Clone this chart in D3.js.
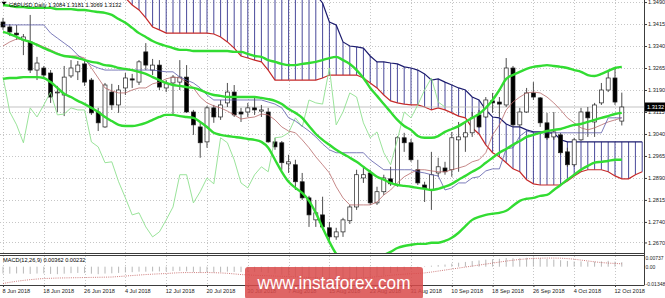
<!DOCTYPE html>
<html><head><meta charset="utf-8">
<script src="https://cdn.jsdelivr.net/npm/d3@7"></script>
<style>
html,body{margin:0;padding:0;background:#fff;overflow:hidden;}
svg{display:block;font-family:"Liberation Sans",Arial,sans-serif;}
</style>
</head><body>
<svg id="chart" width="665" height="298"></svg>
<script>
// ---------------- DATA ----------------
const title = "GBPUSD,Daily 1.3084 1.3181 1.3069 1.3132";
const macdTitle = "MACD(12,26,9) 0.00362 0.00232";
const dates = [
"2018-06-08","2018-06-11","2018-06-12","2018-06-13","2018-06-14","2018-06-15","2018-06-18","2018-06-19","2018-06-20","2018-06-21",
"2018-06-22","2018-06-25","2018-06-26","2018-06-27","2018-06-28","2018-06-29","2018-07-02","2018-07-03","2018-07-04","2018-07-05",
"2018-07-06","2018-07-09","2018-07-10","2018-07-11","2018-07-12","2018-07-13","2018-07-16","2018-07-17","2018-07-18","2018-07-19",
"2018-07-20","2018-07-23","2018-07-24","2018-07-25","2018-07-26","2018-07-27","2018-07-30","2018-07-31","2018-08-01","2018-08-02",
"2018-08-03","2018-08-06","2018-08-07","2018-08-08","2018-08-09","2018-08-10","2018-08-13","2018-08-14","2018-08-15","2018-08-16",
"2018-08-17","2018-08-20","2018-08-21","2018-08-22","2018-08-23","2018-08-24","2018-08-27","2018-08-28","2018-08-29","2018-08-30",
"2018-08-31","2018-09-03","2018-09-04","2018-09-05","2018-09-06","2018-09-07","2018-09-10","2018-09-11","2018-09-12","2018-09-13",
"2018-09-14","2018-09-17","2018-09-18","2018-09-19","2018-09-20","2018-09-21","2018-09-24","2018-09-25","2018-09-26","2018-09-27",
"2018-09-28","2018-10-01","2018-10-02","2018-10-03","2018-10-04","2018-10-05","2018-10-08","2018-10-09","2018-10-10","2018-10-11",
"2018-10-12","2018-10-15"];
const open = [
1.3422,1.3405,1.3384,1.3361,1.3354,1.3258,1.3265,1.3248,1.3180,1.3173,
1.3238,1.3252,1.3279,1.3224,1.3115,1.3064,1.3183,1.3139,1.3197,1.3228,
1.3217,1.3320,1.3258,1.3275,1.3197,1.3214,1.3217,1.3234,1.3115,1.3064,
1.3013,1.3129,1.3098,1.3146,1.3183,1.3115,1.3115,1.3129,1.3118,1.3115,
1.3013,1.3010,1.2938,1.2935,1.2877,1.2822,1.2747,1.2764,1.2720,1.2689,
1.2706,1.2744,1.2791,1.2890,1.2907,1.2805,1.2843,1.2887,1.2866,1.3027,
1.3010,1.2918,1.2866,1.2849,1.2907,1.2924,1.2918,1.3020,1.3030,1.3044,
1.3105,1.3098,1.3153,1.3149,1.3139,1.3265,1.3071,1.3115,1.3180,1.3163,
1.3078,1.3030,1.3037,1.2979,1.2935,1.3020,1.3115,1.3081,1.3146,1.3190,
1.3231,1.3084];
const high = [
1.3436,1.3415,1.3412,1.3381,1.3446,1.3303,1.3272,1.3258,1.3204,1.3272,
1.3292,1.3289,1.3292,1.3231,1.3129,1.3214,1.3211,1.3207,1.3248,1.3245,
1.3292,1.3350,1.3296,1.3292,1.3224,1.3241,1.3292,1.3275,1.3122,1.3078,
1.3136,1.3139,1.3156,1.3214,1.3207,1.3129,1.3146,1.3163,1.3139,1.3129,
1.3027,1.3016,1.2969,1.2952,1.2907,1.2829,1.2815,1.2826,1.2740,1.2720,
1.2754,1.2798,1.2918,1.2924,1.2918,1.2860,1.2901,1.2928,1.3033,1.3044,
1.3023,1.2952,1.2877,1.2979,1.2959,1.2945,1.3047,1.3081,1.3078,1.3115,
1.3122,1.3166,1.3180,1.3166,1.3299,1.3272,1.3129,1.3197,1.3217,1.3166,
1.3112,1.3115,1.3044,1.2993,1.3027,1.3129,1.3132,1.3146,1.3214,1.3258,
1.3265,1.3181];
const low = [
1.3395,1.3374,1.3361,1.3309,1.3248,1.3224,1.3234,1.3146,1.3115,1.3101,
1.3231,1.3224,1.3204,1.3105,1.3050,1.3061,1.3122,1.3112,1.3173,1.3197,
1.3207,1.3258,1.3241,1.3190,1.3183,1.3105,1.3190,1.3112,1.3037,1.2959,
1.2993,1.3078,1.3088,1.3132,1.3098,1.3081,1.3098,1.3105,1.3098,1.3010,
1.2986,1.2918,1.2907,1.2849,1.2815,1.2723,1.2723,1.2713,1.2665,1.2679,
1.2689,1.2733,1.2781,1.2873,1.2798,1.2798,1.2832,1.2863,1.2860,1.2979,
1.2945,1.2866,1.2808,1.2781,1.2894,1.2901,1.2894,1.2911,1.2979,1.3030,
1.3061,1.3095,1.3112,1.3098,1.3132,1.3064,1.3064,1.3112,1.3156,1.3064,
1.3020,1.3020,1.2969,1.2928,1.2928,1.3016,1.3030,1.3030,1.3139,1.3183,
1.3139,1.3069];
const close = [
1.3405,1.3388,1.3378,1.3371,1.3258,1.3282,1.3241,1.3166,1.3183,1.3234,
1.3265,1.3275,1.3217,1.3112,1.3078,1.3207,1.3139,1.3190,1.3231,1.3224,
1.3286,1.3275,1.3275,1.3200,1.3211,1.3234,1.3234,1.3115,1.3071,1.3010,
1.3129,1.3098,1.3139,1.3183,1.3105,1.3108,1.3129,1.3122,1.3122,1.3013,
1.2996,1.2942,1.2945,1.2877,1.2822,1.2764,1.2771,1.2723,1.2689,1.2706,
1.2747,1.2791,1.2901,1.2901,1.2805,1.2843,1.2890,1.2870,1.3027,1.3010,
1.2952,1.2873,1.2856,1.2901,1.2928,1.2911,1.3027,1.3030,1.3044,1.3095,
1.3064,1.3156,1.3146,1.3142,1.3265,1.3071,1.3115,1.3180,1.3166,1.3078,
1.3027,1.3047,1.2976,1.2935,1.3020,1.3115,1.3095,1.3139,1.3190,1.3231,
1.3149,1.3132];
const bbUpper = [
1.3480,1.3477,1.3473,1.3473,1.3470,1.3470,1.3470,1.3470,1.3466,1.3466,
1.3466,1.3463,1.3463,1.3459,1.3456,1.3453,1.3446,1.3432,1.3419,1.3402,
1.3384,1.3371,1.3357,1.3347,1.3340,1.3333,1.3327,1.3327,1.3323,1.3323,
1.3323,1.3323,1.3323,1.3323,1.3320,1.3320,1.3313,1.3306,1.3303,1.3292,
1.3286,1.3279,1.3275,1.3275,1.3279,1.3282,1.3286,1.3292,1.3299,1.3303,
1.3292,1.3279,1.3258,1.3231,1.3197,1.3170,1.3142,1.3115,1.3088,1.3067,
1.3054,1.3033,1.3027,1.3027,1.3033,1.3047,1.3057,1.3067,1.3081,1.3095,
1.3108,1.3129,1.3156,1.3190,1.3228,1.3241,1.3252,1.3262,1.3269,1.3272,
1.3275,1.3272,1.3269,1.3265,1.3258,1.3252,1.3241,1.3238,1.3245,1.3255,
1.3265,1.3269];
const bbMiddle = [
1.3388,1.3381,1.3371,1.3361,1.3354,1.3344,1.3333,1.3323,1.3313,1.3306,
1.3303,1.3299,1.3292,1.3286,1.3282,1.3275,1.3272,1.3265,1.3262,1.3258,
1.3252,1.3245,1.3234,1.3224,1.3214,1.3207,1.3204,1.3200,1.3197,1.3190,
1.3180,1.3173,1.3170,1.3166,1.3166,1.3166,1.3166,1.3166,1.3163,1.3159,
1.3153,1.3142,1.3125,1.3112,1.3095,1.3067,1.3040,1.3020,1.3003,1.2986,
1.2972,1.2959,1.2945,1.2928,1.2911,1.2894,1.2884,1.2873,1.2866,1.2863,
1.2860,1.2856,1.2853,1.2849,1.2853,1.2860,1.2870,1.2884,1.2897,1.2911,
1.2924,1.2942,1.2959,1.2976,1.2989,1.3003,1.3016,1.3030,1.3037,1.3044,
1.3050,1.3054,1.3057,1.3064,1.3071,1.3074,1.3081,1.3088,1.3095,1.3101,
1.3108,1.3112];
const bbLower = [
1.3228,1.3231,1.3231,1.3234,1.3234,1.3234,1.3231,1.3217,1.3197,1.3177,
1.3166,1.3153,1.3142,1.3129,1.3115,1.3098,1.3084,1.3071,1.3067,1.3067,
1.3071,1.3078,1.3088,1.3098,1.3105,1.3105,1.3101,1.3098,1.3095,1.3081,
1.3064,1.3044,1.3037,1.3033,1.3030,1.3027,1.3023,1.3020,1.3013,1.2993,
1.2952,1.2911,1.2877,1.2856,1.2839,1.2812,1.2771,1.2720,1.2672,1.2631,
1.2610,1.2597,1.2590,1.2593,1.2604,1.2617,1.2627,1.2638,1.2651,1.2658,
1.2662,1.2665,1.2665,1.2669,1.2669,1.2675,1.2686,1.2703,1.2726,1.2747,
1.2757,1.2764,1.2768,1.2771,1.2778,1.2795,1.2812,1.2819,1.2822,1.2829,
1.2832,1.2849,1.2866,1.2884,1.2901,1.2918,1.2931,1.2942,1.2945,1.2948,
1.2952,1.2952];
const tenkan = [
1.3340,1.3354,1.3364,1.3361,1.3354,1.3347,1.3337,1.3327,1.3316,1.3306,
1.3306,1.3306,1.3299,1.3265,1.3231,1.3197,1.3187,1.3180,1.3180,1.3190,
1.3197,1.3197,1.3211,1.3217,1.3228,1.3234,1.3231,1.3217,1.3197,1.3166,
1.3146,1.3136,1.3129,1.3118,1.3105,1.3091,1.3095,1.3098,1.3108,1.3105,
1.3088,1.3064,1.3050,1.3044,1.3020,1.2993,1.2962,1.2935,1.2907,1.2860,
1.2822,1.2798,1.2798,1.2798,1.2798,1.2808,1.2832,1.2849,1.2873,1.2894,
1.2907,1.2918,1.2918,1.2914,1.2911,1.2911,1.2918,1.2924,1.2931,1.2945,
1.2952,1.2976,1.3037,1.3071,1.3122,1.3149,1.3166,1.3180,1.3183,1.3180,
1.3166,1.3146,1.3122,1.3095,1.3078,1.3061,1.3054,1.3061,1.3071,1.3081,
1.3088,1.3095];
const kijun = [
1.3412,1.3412,1.3412,1.3412,1.3412,1.3412,1.3412,1.3384,1.3367,1.3350,
1.3333,1.3309,1.3292,1.3275,1.3265,1.3258,1.3258,1.3258,1.3258,1.3258,
1.3258,1.3258,1.3258,1.3255,1.3252,1.3252,1.3234,1.3224,1.3214,1.3197,
1.3173,1.3156,1.3156,1.3156,1.3156,1.3156,1.3156,1.3156,1.3156,1.3149,
1.3142,1.3129,1.3095,1.3084,1.3067,1.3050,1.3030,1.3006,1.2986,1.2976,
1.2976,1.2976,1.2976,1.2976,1.2952,1.2935,1.2918,1.2918,1.2918,1.2918,
1.2918,1.2911,1.2907,1.2901,1.2897,1.2849,1.2856,1.2873,1.2873,1.2890,
1.2894,1.2914,1.2921,1.2921,1.2989,1.2993,1.3033,1.3050,1.3044,1.3044,
1.3044,1.3044,1.3044,1.3044,1.3044,1.3044,1.3044,1.3044,1.3044,1.3095,
1.3095,1.3095];
// Ichimoku cloud spans, already shifted 26 bars forward (index continues past the last bar)
const spanTop = [
1.3700,1.3700,1.3700,1.3700,1.3700,1.3700,1.3700,1.3700,1.3700,1.3700,
1.3680,1.3680,1.3680,1.3680,1.3680,1.3680,1.3680,1.3680,1.3660,1.3660,
1.3660,1.3660,1.3660,1.3660,1.3660,1.3660,1.3660,1.3660,1.3660,1.3660,
1.3660,1.3640,1.3640,1.3640,1.3640,1.3640,1.3640,1.3640,1.3640,1.3640,
1.3640,1.3600,1.3600,1.3600,1.3600,1.3560,1.3515,1.3487,1.3422,1.3412,
1.3354,1.3340,1.3337,1.3333,1.3306,1.3286,1.3286,1.3282,1.3279,1.3269,
1.3265,1.3258,1.3245,1.3224,1.3228,1.3217,1.3207,1.3197,1.3190,1.3166,
1.3156,1.3122,1.3098,1.3095,1.3074,1.3064,1.3064,1.3054,1.3047,1.3047,
1.3044,1.3044,1.3020,1.3013,1.3013,1.3013,1.3013,1.3013,1.3013,1.3013,
1.3013,1.3013,1.3013,1.3013,1.3013];
const spanBottom = [
1.3600,1.3600,1.3600,1.3600,1.3600,1.3600,1.3580,1.3580,1.3580,1.3580,
1.3580,1.3560,1.3560,1.3560,1.3560,1.3540,1.3525,1.3512,1.3504,1.3480,
1.3463,1.3436,1.3405,1.3395,1.3384,1.3384,1.3384,1.3384,1.3384,1.3384,
1.3384,1.3381,1.3371,1.3354,1.3333,1.3306,1.3299,1.3292,1.3286,1.3258,
1.3224,1.3224,1.3224,1.3224,1.3224,1.3224,1.3224,1.3231,1.3241,1.3241,
1.3241,1.3241,1.3241,1.3231,1.3214,1.3197,1.3173,1.3153,1.3146,1.3142,
1.3139,1.3139,1.3132,1.3122,1.3129,1.3122,1.3112,1.3101,1.3095,1.3061,
1.3040,1.3003,1.2976,1.2962,1.2942,1.2921,1.2911,1.2884,1.2870,1.2866,
1.2866,1.2866,1.2866,1.2880,1.2897,1.2911,1.2918,1.2918,1.2918,1.2911,
1.2897,1.2887,1.2887,1.2901,1.2911];
const macdMain = [
-0.0055,-0.0056,-0.0054,-0.0055,-0.0058,-0.0055,-0.0054,-0.0058,-0.0060,-0.0056,
-0.0052,-0.0050,-0.0051,-0.0056,-0.0060,-0.0055,-0.0053,-0.0050,-0.0046,-0.0044,
-0.0040,-0.0040,-0.0038,-0.0038,-0.0037,-0.0035,-0.0034,-0.0037,-0.0042,-0.0048,
-0.0045,-0.0046,-0.0044,-0.0040,-0.0042,-0.0043,-0.0042,-0.0042,-0.0042,-0.0050,
-0.0056,-0.0064,-0.0070,-0.0078,-0.0088,-0.0098,-0.0104,-0.0110,-0.0118,-0.0122,
-0.0120,-0.0113,-0.0098,-0.0088,-0.0083,-0.0075,-0.0066,-0.0052,-0.0040,-0.0030,
-0.0022,-0.0012,0.0004,0.0008,0.0013,0.0017,0.0025,0.0032,0.0038,0.0045,
0.0050,0.0056,0.0060,0.0063,0.0070,0.0068,0.0068,0.0071,0.00737,0.0069,
0.0062,0.0057,0.0052,0.0046,0.0042,0.0043,0.0040,0.0040,0.0043,0.0047,
0.0041,0.00362];
const macdSignal = [
-0.01348,-0.0125,-0.0117,-0.0110,-0.0104,-0.0099,-0.0095,-0.0093,-0.0091,-0.0090,
-0.0089,-0.0088,-0.0087,-0.0086,-0.0085,-0.0084,-0.0083,-0.0079,-0.0075,-0.0071,
-0.0067,-0.0063,-0.0060,-0.0057,-0.0055,-0.0051,-0.0048,-0.0047,-0.0047,-0.0047,
-0.0047,-0.0048,-0.0050,-0.0053,-0.0058,-0.0063,-0.0066,-0.0069,-0.0071,-0.0073,
-0.0075,-0.0077,-0.0079,-0.0081,-0.0083,-0.0086,-0.0089,-0.0092,-0.0094,-0.0095,
-0.0095,-0.0094,-0.0092,-0.0089,-0.0085,-0.0080,-0.0075,-0.0069,-0.0064,-0.0060,
-0.0056,-0.0054,-0.0050,-0.0043,-0.0035,-0.0027,-0.0019,-0.0011,-0.0003,0.0005,
0.0013,0.0021,0.0029,0.0037,0.0045,0.0052,0.0058,0.0063,0.0066,0.0068,
0.0069,0.0069,0.0068,0.0065,0.0060,0.0053,0.0046,0.0039,0.0033,0.0029,
0.0026,0.00232];
const priceTicks = [1.3490,1.3415,1.3340,1.3265,1.3190,1.3115,1.3040,1.2965,1.2890,1.2815,1.2740,1.2670];
const priceTickLabels = ["1.3490","1.3415","1.3340","1.3265","1.3190","1.3115","1.3040","1.2965","1.2890","1.2815","1.2740","1.2670"];
const macdTicks = [0.00737,0,-0.01348];
const macdTickLabels = ["0.00737","0.00","-0.01348"];
const dateTicks = ["2018-06-08","2018-06-18","2018-06-26","2018-07-04","2018-07-12","2018-07-20","2018-07-30","2018-08-07",
"2018-08-15","2018-08-23","2018-08-31","2018-09-10","2018-09-18","2018-09-26","2018-10-04","2018-10-12"];
const dateTickLabels = ["8 Jun 2018","18 Jun 2018","26 Jun 2018","4 Jul 2018","12 Jul 2018","20 Jul 2018","30 Jul 2018","7 Aug 2018",
"15 Aug 2018","23 Aug 2018","31 Aug 2018","10 Sep 2018","18 Sep 2018","26 Sep 2018","4 Oct 2018","12 Oct 2018"];
const watermark = "www.instaforex.com";

// ---------------- LAYOUT ----------------
const plotR = 644, mainB = 253, macdT = 256, macdB = 285;
const svg = d3.select("#chart");
const defs = svg.append("defs");
defs.append("clipPath").attr("id","clipMain").append("rect").attr("x",0).attr("y",0).attr("width",plotR).attr("height",mainB);
defs.append("clipPath").attr("id","clipMacd").append("rect").attr("x",0).attr("y",macdT).attr("width",plotR).attr("height",macdB-macdT);

const n = dates.length;
const x = d3.scaleLinear().domain([0, n-1]).range([3, 621.8]);
const y = d3.scaleLinear().domain([1.2634, 1.3497]).range([mainB, 0]);
const ym = d3.scaleLinear().domain([-0.01348, 0.00737]).range([283.5, 257.5]);
const tickIdx = dateTicks.map(d => dates.indexOf(d));
const gridColor = "#c6c6c6";
const FS = "5.6px";

// ---------- main panel ----------
const main = svg.append("g").attr("clip-path","url(#clipMain)");
main.selectAll("line.hg").data(priceTicks).join("line").attr("class","hg")
  .attr("x1",0).attr("x2",plotR)
  .attr("y1",d=>Math.round(y(d))+0.5).attr("y2",d=>Math.round(y(d))+0.5)
  .attr("stroke",gridColor).attr("stroke-dasharray","1,2");
main.selectAll("line.vg").data(tickIdx).join("line").attr("class","vg")
  .attr("x1",d=>Math.round(x(d))+0.5).attr("x2",d=>Math.round(x(d))+0.5)
  .attr("y1",0).attr("y2",mainB)
  .attr("stroke",gridColor).attr("stroke-dasharray","1,2");

// cloud hatch
const cloudIdx = d3.range(spanTop.length);
main.selectAll("line.hatch").data(cloudIdx).join("line").attr("class","hatch")
  .attr("x1",i=>x(i)).attr("x2",i=>x(i))
  .attr("y1",i=>y(spanTop[i])).attr("y2",i=>y(spanBottom[i]))
  .attr("stroke","#34348f").attr("stroke-width",0.9);
const lineGen = d3.line().x((d,i)=>x(i)).y(d=>y(d)).defined(d=>d!=null);
main.append("path").attr("d",lineGen(spanTop)).attr("fill","none").attr("stroke","#1c1c6e").attr("stroke-width",1.2);
main.append("path").attr("d",lineGen(spanBottom)).attr("fill","none").attr("stroke","#c62a2a").attr("stroke-width",1.2);

// bid line
main.append("line").attr("x1",0).attr("x2",plotR)
  .attr("y1",y(close[n-1])).attr("y2",y(close[n-1]))
  .attr("stroke","#b4b4b4").attr("stroke-width",0.8);

// candles
const candles = main.selectAll("g.c").data(d3.range(n)).join("g").attr("class","c");
candles.append("line")
  .attr("x1",i=>x(i)).attr("x2",i=>x(i))
  .attr("y1",i=>y(high[i])).attr("y2",i=>y(low[i]))
  .attr("stroke","#3a3a3a").attr("stroke-width",0.9);
candles.append("rect")
  .attr("x",i=>x(i)-2).attr("width",4)
  .attr("y",i=>y(Math.max(open[i],close[i])))
  .attr("height",i=>Math.max(0.8, Math.abs(y(open[i])-y(close[i]))))
  .attr("fill",i=>close[i]>=open[i] ? "#ffffff" : "#000000")
  .attr("stroke","#222").attr("stroke-width",0.7);

// chikou span (close shifted 26 bars back)
const chikou = close.slice(26);
main.append("path").attr("d",lineGen(chikou)).attr("fill","none").attr("stroke","#8fe08f").attr("stroke-width",0.9);
// tenkan / kijun
main.append("path").attr("d",lineGen(tenkan)).attr("fill","none").attr("stroke","#b86a6a").attr("stroke-width",0.8);
main.append("path").attr("d",lineGen(kijun)).attr("fill","none").attr("stroke","#5a5aa8").attr("stroke-width",0.8);
// bollinger bands
[bbUpper,bbMiddle,bbLower].forEach(arr=>{
  main.append("path").attr("d",d3.line().curve(d3.curveMonotoneX).x((d,i)=>x(i)).y(d=>y(d))(arr))
    .attr("fill","none").attr("stroke","#32dc32").attr("stroke-width",2.4).attr("stroke-linejoin","round");
});

// ---------- MACD panel ----------
const mp = svg.append("g").attr("clip-path","url(#clipMacd)");
mp.selectAll("line.vg").data(tickIdx).join("line").attr("class","vg")
  .attr("x1",d=>Math.round(x(d))+0.5).attr("x2",d=>Math.round(x(d))+0.5)
  .attr("y1",macdT).attr("y2",macdB)
  .attr("stroke",gridColor).attr("stroke-dasharray","1,2");
mp.selectAll("line.bar").data(macdMain).join("line").attr("class","bar")
  .attr("x1",(d,i)=>x(i)).attr("x2",(d,i)=>x(i))
  .attr("y1",ym(0)).attr("y2",d=>ym(d))
  .attr("stroke","#b8b8b8").attr("stroke-width",1);
mp.append("path").attr("d",d3.line().x((d,i)=>x(i)).y(d=>ym(d))(macdSignal))
  .attr("fill","none").attr("stroke","#c25a5a").attr("stroke-width",0.8).attr("stroke-dasharray","1,1.2");

// ---------- frame ----------
const frame = svg.append("g").attr("stroke","#3c3c3c").attr("stroke-width",1);
frame.append("line").attr("x1",0).attr("x2",plotR).attr("y1",mainB+0.5).attr("y2",mainB+0.5);
frame.append("line").attr("x1",0).attr("x2",plotR).attr("y1",macdT-0.5).attr("y2",macdT-0.5);
frame.append("line").attr("x1",0).attr("x2",plotR).attr("y1",macdB+0.5).attr("y2",macdB+0.5);
frame.append("line").attr("x1",plotR+0.5).attr("x2",plotR+0.5).attr("y1",0).attr("y2",macdB+0.5);

// ---------- axes ----------
function styleAxis(g, fs){
  g.select(".domain").remove();
  g.selectAll(".tick line").attr("stroke","#3c3c3c");
  g.selectAll(".tick text").attr("fill","#222").style("font-size",fs||FS);
}
svg.append("g").attr("transform",`translate(${plotR},0)`)
  .call(d3.axisRight(y).tickValues(priceTicks).tickFormat((d,i)=>priceTickLabels[i]).tickSize(3).tickPadding(1))
  .call(g=>styleAxis(g));
svg.append("g").attr("transform",`translate(${plotR},0)`)
  .call(d3.axisRight(ym).tickValues(macdTicks).tickFormat((d,i)=>macdTickLabels[i]).tickSize(1).tickPadding(0.5))
  .call(g=>styleAxis(g,"5px"));
const xa = svg.append("g").attr("transform",`translate(0,${macdB})`)
  .call(d3.axisBottom(x).tickValues(tickIdx).tickFormat((d,i)=>dateTickLabels[i]).tickSize(2).tickPadding(2))
  .call(g=>styleAxis(g));
xa.selectAll(".tick text").attr("text-anchor","start").attr("x",-1);

// current price box
const cy = y(close[n-1]);
svg.append("rect").attr("x",plotR+1).attr("y",cy-4.5).attr("width",20).attr("height",9).attr("fill","#000");
svg.append("text").attr("x",plotR+3).attr("y",cy).attr("dy","0.35em").attr("fill","#fff")
  .style("font-size",FS).text(close[n-1].toFixed(4));

// titles
svg.append("path").attr("d","M1.5,1.8 L6.5,1.8 L4,5 Z").attr("fill","#000");
svg.append("text").attr("x",9).attr("y",6.5).attr("fill","#000").style("font-size",FS).text(title);
svg.append("text").attr("x",3).attr("y",261.8).attr("fill","#000").style("font-size",FS).text(macdTitle);

// watermark (semi-transparent, over the chart like the original)
svg.append("rect").attr("x",245).attr("y",267).attr("width",178).attr("height",32).attr("rx",3)
  .attr("fill","#d94a4a").attr("opacity",0.85);
svg.append("text").attr("x",334).attr("y",289).attr("text-anchor","middle").attr("fill","#fff")
  .style("font-size","19px").attr("textLength",153).attr("lengthAdjust","spacingAndGlyphs").text(watermark);
</script>
</body></html>
